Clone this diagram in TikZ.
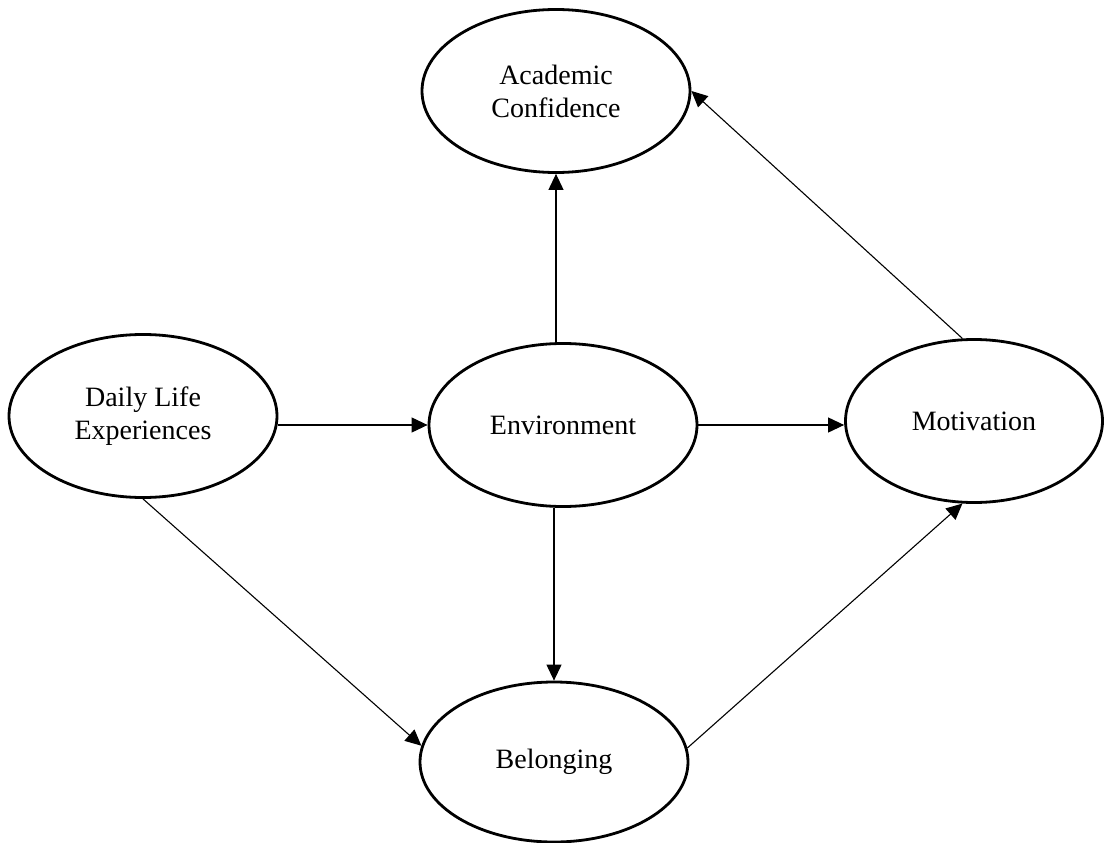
\documentclass[tikz,border=0pt]{standalone}
\usepackage{fontspec}
\setmainfont{Liberation Serif}
\usetikzlibrary{shapes.geometric,arrows.meta}
\tikzset{
  oval/.style={draw=black, line width=2.8pt, ellipse, inner sep=0pt,
    minimum width=268pt, minimum height=163pt, align=center,
    font=\fontsize{28pt}{33pt}\selectfont},
  arr/.style={line width=1.1pt, -{Triangle[length=16pt,width=15pt]}}
}
\begin{document}
\begin{tikzpicture}[x=1pt,y=-1pt]
\useasboundingbox (0,0) rectangle (1104,843);
\node[oval] (acad) at (556,91) {Academic\\Confidence};
\node[oval] (daily) at (143,416) {\raisebox{-4pt}{\begin{tabular}{@{}c@{}}Daily Life\\Experiences\end{tabular}}};
\node[oval] (env) at (563,425) {Environment};
\node[oval, minimum width=257pt] (mot) at (974,421) {Motivation};
\node[oval, minimum height=160pt] (bel) at (554,762) {Belonging};
\draw[arr] (env.west -| daily.east) -- (env.west);
\draw[arr] (env.east) -- (env.east -| mot.west);
\draw[arr] (env.north -| acad.south) -- (acad.south);
\draw[arr] (env.south -| bel.north) -- (bel.north);
\draw[arr] (mot.98) -- (acad.east);
\draw[arr] (daily.south) -- (bel.173);
\draw[arr] (bel.6) -- (mot.262);
\end{tikzpicture}
\end{document}
